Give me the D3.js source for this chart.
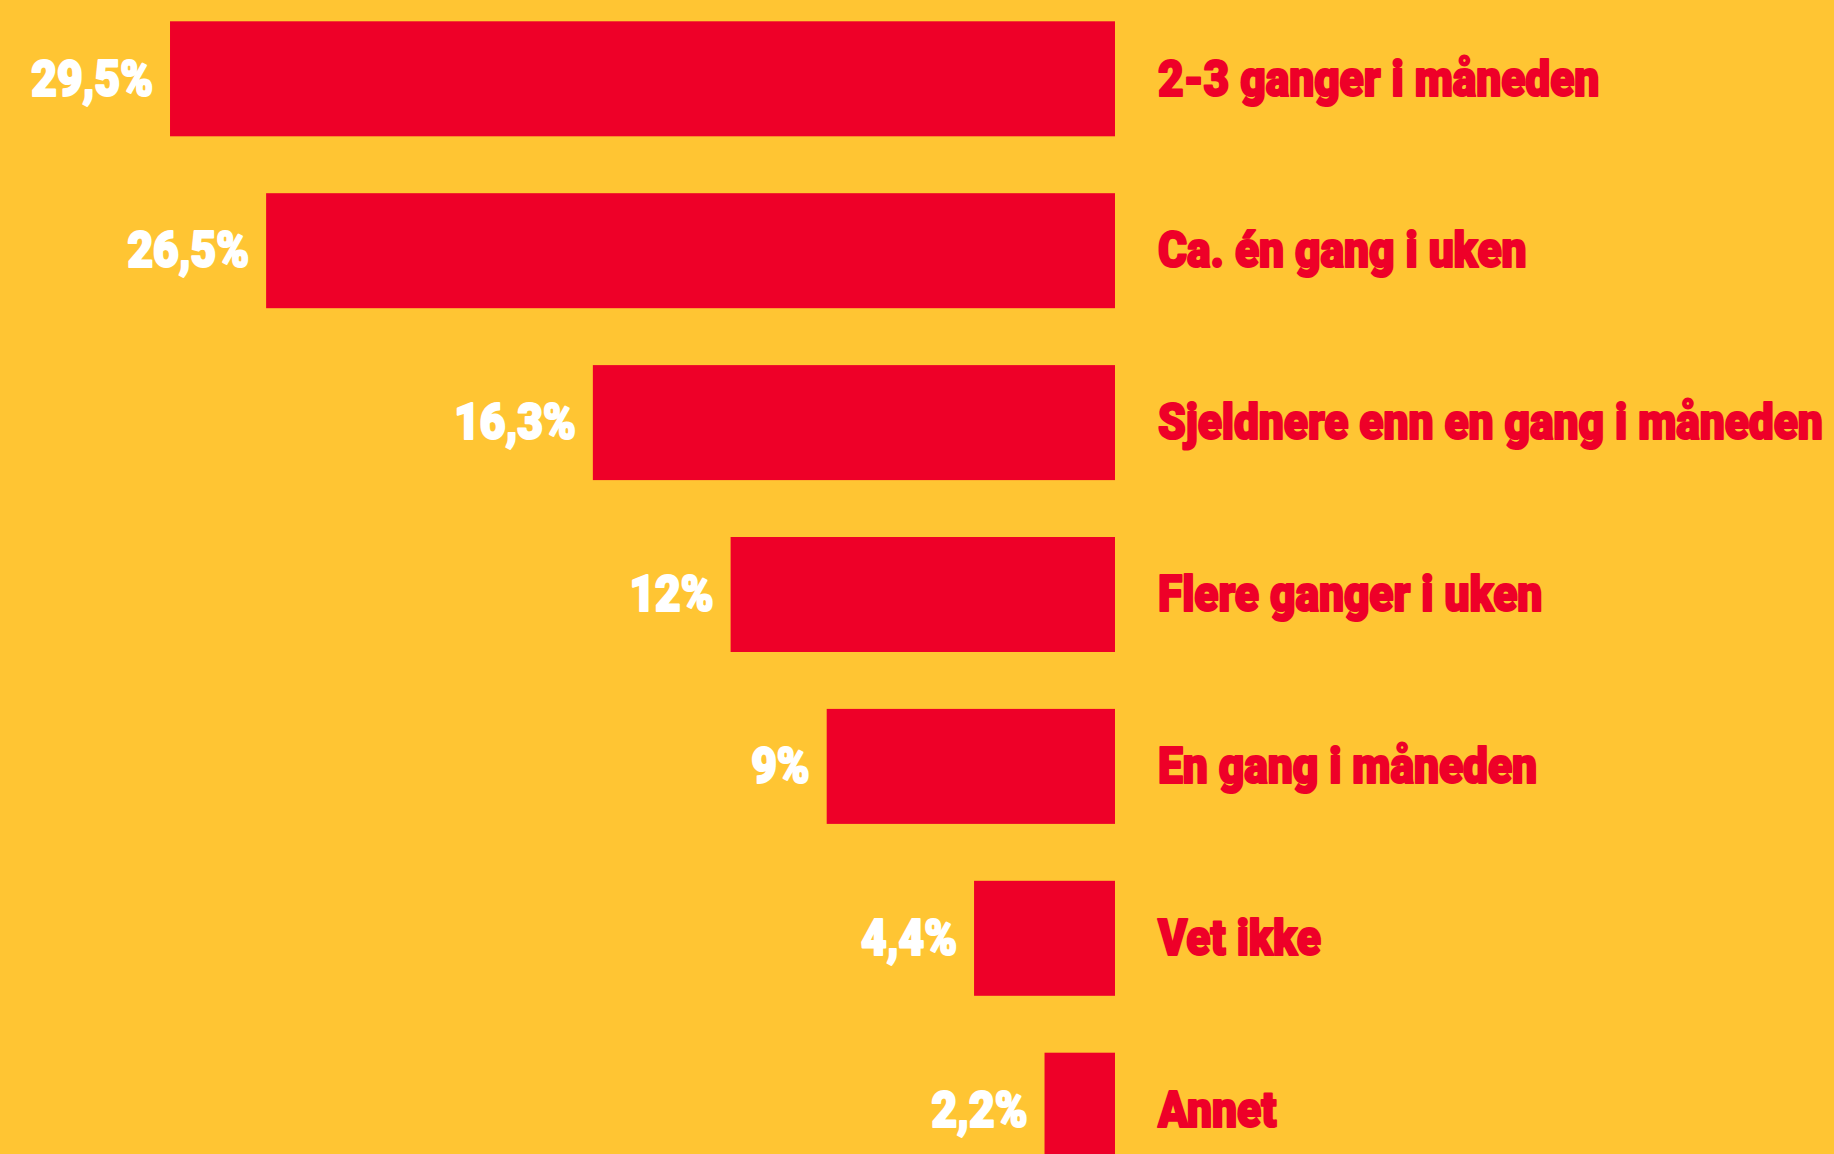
<!DOCTYPE html>
<html>
<head>
<meta charset="utf-8">
<script src="https://cdn.jsdelivr.net/npm/d3@7"></script>
<style>
  html, body { margin: 0; padding: 0; background: #ffc533; }
  svg { display: block; }
  .value { fill: #ffffff; stroke: #ffffff; }
  .cat { fill: #ee0028; stroke: #ee0028; }
  text { font-family: Roboto, "Noto Sans", sans-serif; font-weight: 900; stroke-width: 2.2; stroke-linejoin: round; }
</style>
</head>
<body>
<div id="chart"></div>
<script>
// svarfordeling, prosent
var categories = ["2-3 ganger i måneden", "Ca. én gang i uken", "Sjeldnere enn en gang i måneden",
                  "Flere ganger i uken", "En gang i måneden", "Vet ikke", "Annet"];
var values = [29.5, 26.5, 16.3, 12, 9, 4.4, 2.2];
var valueLabels = ["29,5%", "26,5%", "16,3%", "12%", "9%", "4,4%", "2,2%"];

var w = 1834;
var h = 1154;
var barRight = 1115;
var fontSize = 50;
var squash = 0.885;
var step = 171.9;
var barH = 115;

var dataset = categories.map(function(c, i) {
  return { cat: c, value: values[i], label: valueLabels[i] };
});

function barChart() {
  var xScale = d3.scaleLinear()
    .domain([0, 30])
    .range([0, 961]);

  var yScale = d3.scaleBand()
    .domain(categories)
    .range([21.3, 21.3 + 7 * step - (step - barH)])
    .paddingInner((step - barH) / step)
    .paddingOuter(0);

  var svg = d3.select("#chart")
    .append("svg")
    .attr("width", w)
    .attr("height", h);

  svg.append("rect")
    .attr("width", w)
    .attr("height", h)
    .attr("fill", "#ffc533");

  svg.selectAll(".bar")
    .data(dataset)
    .enter()
    .append("rect")
    .attr("class", "bar")
    .attr("x", function(d) { return barRight - xScale(d.value); })
    .attr("y", function(d) { return yScale(d.cat); })
    .attr("width", function(d) { return xScale(d.value); })
    .attr("height", yScale.bandwidth())
    .attr("fill", "#ee0028");

  var baseShift = fontSize * 0.711 / 2 - 1;

  svg.selectAll(".value")
    .data(dataset)
    .enter()
    .append("text")
    .attr("class", "value")
    .attr("text-anchor", "end")
    .attr("font-size", fontSize)
    .attr("transform", function(d) {
      var x = barRight - xScale(d.value) - 17;
      var y = yScale(d.cat) + yScale.bandwidth() / 2 + baseShift;
      return "translate(" + x + "," + y + ") scale(" + squash + ",1)";
    })
    .text(function(d) { return d.label; });

  svg.selectAll(".cat")
    .data(dataset)
    .enter()
    .append("text")
    .attr("class", "cat")
    .attr("font-size", fontSize)
    .attr("transform", function(d) {
      var y = yScale(d.cat) + yScale.bandwidth() / 2 + baseShift;
      return "translate(" + (barRight + 43) + "," + y + ") scale(" + squash + ",1)";
    })
    .text(function(d) { return d.cat; });
}

window.onload = barChart;
</script>
</body>
</html>
